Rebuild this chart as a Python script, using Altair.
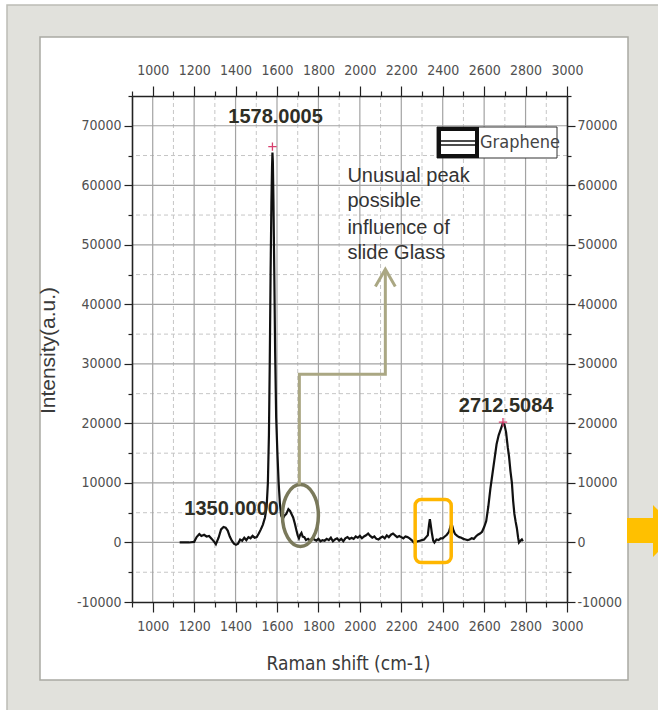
import altair as alt
import pandas as pd

# ---------------- data ----------------
X_SHIFT = [1130, 1150, 1175, 1200, 1212, 1225, 1235, 1248, 1260, 1272, 1285, 1297, 1305, 1318,
           1330, 1342, 1352, 1362, 1372, 1382, 1392, 1402, 1412, 1422, 1432, 1442, 1452, 1462,
           1472, 1482, 1492, 1502, 1512, 1522, 1532, 1542, 1550, 1556, 1561, 1565, 1569, 1573,
           1576, 1578, 1580, 1583, 1587, 1591, 1596, 1602, 1608, 1614, 1620, 1628, 1636, 1645,
           1655, 1663, 1670, 1678, 1686, 1694, 1700, 1706, 1712, 1718, 1724, 1732, 1740, 1750,
           1760, 1770, 1780, 1790, 1800, 1810, 1820, 1830, 1840, 1850, 1860, 1870, 1880, 1890,
           1900, 1910, 1920, 1930, 1940, 1950, 1960, 1970, 1980, 1990, 2000, 2010, 2020, 2030,
           2040, 2050, 2060, 2070, 2080, 2090, 2100, 2110, 2120, 2130, 2140, 2150, 2160, 2170,
           2180, 2190, 2200, 2210, 2220, 2230, 2240, 2250, 2260, 2270, 2280, 2290, 2300, 2310,
           2320, 2328, 2334, 2338, 2342, 2348, 2354, 2360, 2370, 2380, 2390, 2400, 2410, 2420,
           2430, 2440, 2446, 2452, 2460, 2470, 2480, 2490, 2500, 2510, 2520, 2530, 2540, 2550,
           2560, 2570, 2580, 2590, 2600, 2610, 2620, 2630, 2640, 2650, 2660, 2670, 2680, 2690,
           2698, 2706, 2714, 2720, 2727, 2734, 2740, 2746, 2752, 2758, 2764, 2768, 2775, 2782,
           2787]
INTENSITY = [0, 0, 0, 100, 900, 1400, 1100, 1300, 1000, 1100, 600, 100, -300, 800,
             2200, 2600, 2500, 2000, 1000, 300, -200, -400, -200, 500, 300, 800, 400, 900,
             700, 1100, 800, 900, 1500, 2200, 3000, 4200, 6000, 10000, 18000, 30000, 45000, 57000,
             63000, 65500, 64000, 57000, 45000, 32000, 21000, 15000, 10000, 6500, 4500, 4000, 4500, 4800,
             5600, 5300, 4800, 4200, 3200, 2000, 1200, 700, 1300, 1600, 1000, 900, 400, 600,
             300, 700, 500, 300, 600, 200, 400, 300, 600, 400, 800, 200, 500, 700,
             300, 600, 200, 700, 900, 600, 800, 600, 1000, 800, 1100, 700, 1000, 1200,
             1500, 1100, 800, 1000, 600, 500, 800, 1000, 700, 1200, 900, 1300, 1500, 1200,
             900, 1100, 900, 700, 1000, 900, 700, 400, 0, 100, 200, 300, 400, 500,
             900, 1200, 3000, 3900, 3000, 1500, 300, 0, 500, 400, 700, 700, 1000, 1300,
             1800, 3000, 2800, 2000, 1400, 1100, 900, 800, 600, 500, 400, 500, 700, 600,
             1000, 1300, 1500, 1800, 2600, 3600, 6000, 9000, 11500, 14000, 16500, 18000, 19000, 20000,
             19800, 18500, 16000, 14500, 12000, 10000, 7000, 4800, 3500, 2400, 800, 0, 300, 500,
             200]

X_TICKS = [900, 1000, 1100, 1200, 1300, 1400, 1500, 1600, 1700, 1800, 1900, 2000, 2100,
           2200, 2300, 2400, 2500, 2600, 2700, 2800, 2900, 3000]
Y_TICKS = [-10000, -5000, 0, 5000, 10000, 15000, 20000, 25000, 30000, 35000, 40000, 45000,
           50000, 55000, 60000, 65000, 70000, 75000]
X_MAJOR = [1000, 1200, 1400, 1600, 1800, 2000, 2200, 2400, 2600, 2800]
X_MINOR = [1100, 1300, 1500, 1700, 1900, 2100, 2300, 2500, 2700, 2900]
Y_MAJOR = [0, 10000, 20000, 30000, 40000, 50000, 60000, 70000]
Y_MINOR = [-5000, 5000, 15000, 25000, 35000, 45000, 55000, 65000]

PEAK_X = [1578, 2691]
PEAK_Y = [66500, 20200]
LABEL_TEXT = ["1578.0005", "1350.0000", "2712.5084"]
LABEL_X = [1593, 1381, 2706]
LABEL_Y = [71400, 5700, 23000]
NOTE_LINES = ["Unusual peak", "possible", "influence of", "slide Glass"]
NOTE_X = [1940, 1940, 1940, 1940]
NOTE_Y = [61500, 57300, 52900, 48600]
ARROW_X = [1708, 1708, 2123, 2123]
ARROW_Y = [9750, 28240, 28240, 45600]
HEAD_X = [2075, 2123, 2171]
HEAD_Y = [43000, 45900, 43000]
ELLIPSE_X = [1713]
ELLIPSE_Y = [4540]
BOX_X = [2267]
BOX_X2 = [2441]
BOX_Y = [-3360]
BOX_Y2 = [7230]

# ---------------- styling ----------------
NARROW = "'DejaVu Sans Condensed', 'Liberation Sans Narrow', 'Liberation Sans', sans-serif"
SANS = "'Liberation Sans', Arial, sans-serif"
XS = alt.Scale(domain=[900, 3000], nice=False, zero=False)
YS = alt.Scale(domain=[-10000, 75000], nice=False, zero=False)

one = pd.DataFrame({"a": [1]})
spec = pd.DataFrame({"shift": X_SHIFT, "intensity": INTENSITY})


def xq(f):
    return alt.X(f, type="quantitative", scale=XS, axis=None)


def yq(f):
    return alt.Y(f, type="quantitative", scale=YS, axis=None)


# frame
frame_outer = alt.Chart(one).mark_rect(fill="#e1e1dc", stroke="#bcbcb5", strokeWidth=1.5).encode(
    x=alt.value(-125), x2=alt.value(530), y=alt.value(-91), y2=alt.value(616))
panel = alt.Chart(one).mark_rect(fill="#ffffff", stroke="#a9a9a2", strokeWidth=1.5).encode(
    x=alt.value(-92), x2=alt.value(496), y=alt.value(-59), y2=alt.value(584))

# grid
gx_minor = alt.Chart(pd.DataFrame({"v": X_MINOR})).mark_rule(
    color="#c6c6c6", strokeDash=[4, 3], strokeWidth=1).encode(x=xq("v"))
gy_minor = alt.Chart(pd.DataFrame({"v": Y_MINOR})).mark_rule(
    color="#c6c6c6", strokeDash=[4, 3], strokeWidth=1).encode(y=yq("v"))
gx_major = alt.Chart(pd.DataFrame({"v": X_MAJOR})).mark_rule(
    color="#a3a3a3", strokeWidth=1.2).encode(x=xq("v"))
gy_major = alt.Chart(pd.DataFrame({"v": Y_MAJOR})).mark_rule(
    color="#a3a3a3", strokeWidth=1.2).encode(y=yq("v"))

tick_x = {"condition": {"test": "datum.value % 200 != 0", "value": 5}, "value": 10}
tick_y = {"condition": {"test": "datum.value % 10000 != 0", "value": 4}, "value": 8}

x_common = dict(values=X_TICKS, labelExpr="datum.value % 200 == 0 ? '' + datum.value : ''",
                labelFlush=False, labelOverlap=False, grid=False, domainColor="#222222",
                domainWidth=1.6, tickColor="#222222", tickWidth=1.2, tickSize=tick_x,
                labelFont=NARROW, labelFontSize=14, labelColor="#505050", zindex=1)
y_common = dict(values=Y_TICKS, labelExpr="datum.value % 10000 == 0 ? '' + datum.value : ''",
                labelFlush=False, labelOverlap=False, grid=False, domainColor="#222222",
                domainWidth=1.6, tickColor="#222222", tickWidth=1.2, tickSize=tick_y,
                labelFont=NARROW, labelFontSize=14, labelColor="#505050", zindex=1)

spectrum = alt.Chart(spec).mark_line(color="#111111", strokeWidth=2.2).encode(
    x=alt.X("shift:Q", scale=XS, axis=alt.Axis(
        orient="bottom", title="Raman shift (cm-1)", titleX=216, titleY=61,
        titleAlign="center", titleBaseline="middle", titleFont=NARROW, titleFontSize=19,
        titleFontWeight="normal", titleColor="#3a3a3a", labelPadding=7, **x_common)),
    y=alt.Y("intensity:Q", scale=YS, axis=alt.Axis(
        orient="left", title="Intensity(a.u.)", titleX=-84, titleY=254, titleAngle=270,
        titleAlign="center", titleBaseline="middle", titleFont=SANS, titleFontSize=21,
        titleFontWeight="normal", titleColor="#3a3a3a", labelPadding=3, **y_common)),
)
axes2 = alt.Chart(spec).mark_line(opacity=0).encode(
    x=alt.X("shift:Q", scale=XS, axis=alt.Axis(orient="top", title=None, labelPadding=9, **x_common)),
    y=alt.Y("intensity:Q", scale=YS, axis=alt.Axis(orient="right", title=None, labelPadding=2, **y_common)),
)

# annotations
ellipse = alt.Chart(pd.DataFrame({"x": ELLIPSE_X, "y": ELLIPSE_Y})).mark_point(
    shape="M -0.58 0 A 0.58 1 0 1 1 0.58 0 A 0.58 1 0 1 1 -0.58 0 Z",
    size=3844, filled=False, color="#7a795b", strokeWidth=3.5, opacity=1).encode(x=xq("x"), y=yq("y"))

arrow = alt.Chart(pd.DataFrame({"x": ARROW_X, "y": ARROW_Y, "i": [0, 1, 2, 3]})).mark_line(
    color="#aaa783", strokeWidth=3).encode(x=xq("x"), y=yq("y"), order="i:O")
head = alt.Chart(pd.DataFrame({"x": HEAD_X, "y": HEAD_Y, "i": [0, 1, 2]})).mark_line(
    color="#aaa783", strokeWidth=3).encode(x=xq("x"), y=yq("y"), order="i:O")

obox = alt.Chart(pd.DataFrame({"x": BOX_X, "x2": BOX_X2, "y": BOX_Y, "y2": BOX_Y2})).mark_rect(
    fillOpacity=0, stroke="#ffb600", strokeWidth=3.5, cornerRadius=6).encode(
    x=xq("x"), x2="x2:Q", y=yq("y"), y2="y2:Q")

peaks = alt.Chart(pd.DataFrame({"x": PEAK_X, "y": PEAK_Y})).mark_point(
    shape="M -1 0 L 1 0 M 0 -1 L 0 1", size=70, filled=False, color="#d8406e",
    strokeWidth=1.3, opacity=1).encode(x=xq("x"), y=yq("y"))

labels = alt.Chart(pd.DataFrame({"x": LABEL_X, "y": LABEL_Y, "t": LABEL_TEXT})).mark_text(
    font=SANS, fontWeight="bold", fontSize=20, color="#2e2e25", align="center",
    baseline="middle").encode(x=xq("x"), y=yq("y"), text="t:N")

note = alt.Chart(pd.DataFrame({"x": NOTE_X, "y": NOTE_Y, "t": NOTE_LINES})).mark_text(
    font=SANS, fontSize=20, color="#333333", align="left", baseline="middle").encode(
    x=xq("x"), y=yq("y"), text="t:N")

# legend (box in the upper right of the plot)
leg_box = alt.Chart(one).mark_rect(fill="#ffffff", stroke="#333333", strokeWidth=1).encode(
    x=alt.value(305), x2=alt.value(425), y=alt.value(31), y2=alt.value(62))
leg_sym = alt.Chart(one).mark_rect(fillOpacity=0, stroke="#111111", strokeWidth=4).encode(
    x=alt.value(307), x2=alt.value(345), y=alt.value(33), y2=alt.value(60))
leg_l1 = alt.Chart(one).mark_rule(color="#111111", strokeWidth=1.5).encode(
    x=alt.value(307), x2=alt.value(345), y=alt.value(45))
leg_l2 = alt.Chart(one).mark_rule(color="#111111", strokeWidth=1.5).encode(
    x=alt.value(307), x2=alt.value(345), y=alt.value(49))
leg_txt = alt.Chart(one).mark_text(text="Graphene", font=NARROW, fontSize=18, color="#444444",
                                   align="left", baseline="middle").encode(
    x=alt.value(348), y=alt.value(47))

# orange arrow cut at the right edge
orange_arrow = alt.Chart(one).mark_point(
    shape="M -0.5 -0.5 L 0.5 -0.5 L 0.5 -1 L 1.5 0 L 0.5 1 L 0.5 0.46 L -0.5 0.46 Z",
    size=2704, filled=True, color="#ffc000", strokeWidth=0, opacity=1).encode(
    x=alt.value(508), y=alt.value(435))

chart = alt.layer(
    frame_outer, panel, orange_arrow,
    gx_minor, gy_minor, gx_major, gy_major,
    spectrum, axes2,
    ellipse, arrow, head, obox, peaks, labels, note,
    leg_box, leg_sym, leg_l1, leg_l2, leg_txt,
).resolve_axis(x="independent", y="independent").properties(
    width=435, height=506, autosize="none",
    padding={"left": 132, "top": 96, "right": 91, "bottom": 108},
    background="#ffffff",
).configure_view(stroke=None)

chart.save("out.html", embed_options={"renderer": "svg", "actions": False})
